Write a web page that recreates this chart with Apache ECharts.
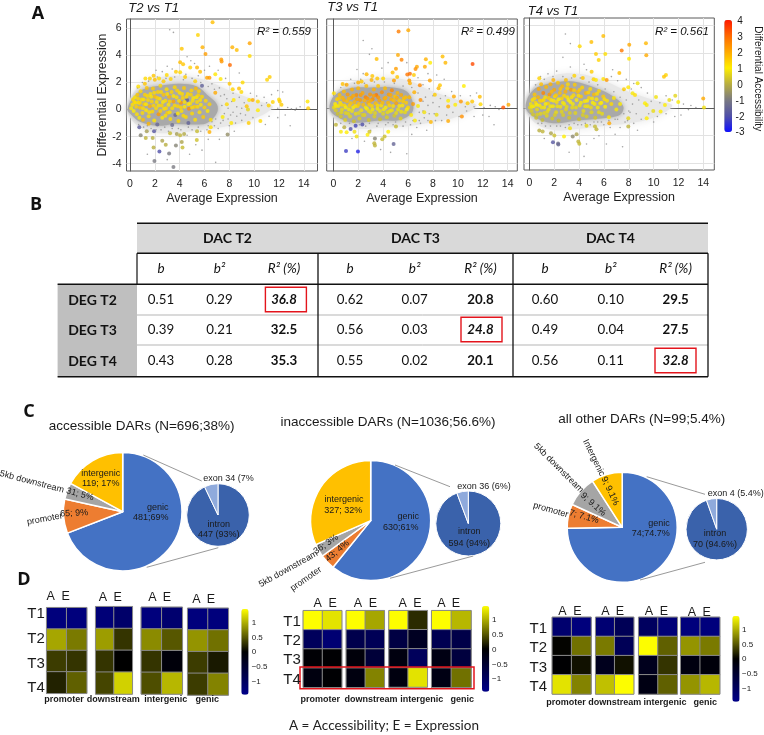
<!DOCTYPE html>
<html><head><meta charset="utf-8">
<style>html,body{margin:0;padding:0;background:#fff}#c{width:764px;height:735px}</style>
<script src="https://cdn.jsdelivr.net/npm/echarts@6/dist/echarts.min.js"></script>
</head><body><div id="c"></div>
<script>
// ---------- Panel A data: [average expression, differential expression, differential accessibility]
const darT2 = [[6.65,6.45,1.7],[5.47,5.5,1.4],[4.17,4.5,1.6],[5.84,4.6,1.9],[6.08,4.1,2.2],[8.24,4.6,1.9],[8.6,4.4,1.7],[9.64,4.9,2.1],[9.64,3.95,1.3],[7.35,3.7,2.2],[7.38,3.55,2.3],[8.05,3.3,3],[4.04,3.5,1.7],[4.28,3.35,1.6],[4.85,3.1,1.4],[5.4,3.1,1.8],[5.65,2.8,1.7],[6.87,2.6,1.1],[6.2,2.35,2.1],[6.4,2.35,2.3],[7.3,2.25,1.1],[11.04,2.2,1.4],[11.25,2.4,1.5],[8.02,1.9,1.6],[8.27,1.5,1.4],[8.78,1.55,1.7],[8.97,1.3,1.3],[9.07,2,1.3],[6.87,1.25,2],[8.35,.7,1.1],[7.8,.4,1.3],[9.6,.7,1.1],[9.88,.7,2],[10.3,.6,1.3],[9.4,.25,1.6],[9.5,0,.6],[10.3,-.05,1],[11.17,.3,1.4],[11.5,.55,1.4],[12,.75,1.3],[12.06,.6,1.5],[12.2,.35,1.5],[14.3,.6,1.1],[14.35,.1,1.5],[10.5,-.85,1.3],[9.56,-1,1.5],[8.16,-1,1.1],[7.46,-.55,.9],[6.5,-1.3,1.2],[6.4,-1.65,1.9],
[1.24,2.3,1.3],[1.6,2.3,1.4],[1.9,2.5,1.6],[2,2.2,1.7],[2.34,2.3,1.3],[2.7,2.1,1.5],[2.96,2.55,1.3],[3.7,2.8,1.5],[3.28,2.25,1.4],[.67,1.7,1.2],[1.2,1.9,1.6],[4.04,2.75,1.3],[4.44,2.4,1.5],[5.25,2.1,1.4],[5.8,1.75,-1.6],
[.86,-1.9,-.8],[1.35,-1.6,-.3],[.75,-1.3,-1.7],[1.94,-1.6,-1.8],[1.83,-2.1,0],[1.27,-2.1,.1],[1.9,-2.8,0],[2.37,-3.1,-2],[1.97,-3.8,-1],[3.15,-3.25,-1],[3.5,-4.25,-1],[2.6,-2.3,-.2],[2.88,-2.6,0],[3.23,-1.75,.2],[3.77,-1.8,-.3],[4.04,-1.9,.1],[3.7,-2.65,-.8],[4.17,-2.4,-.2],[4.23,-2.8,.2],[4.36,-1.8,-.1],[5.38,-2.25,.3],[5.4,-1.6,.2],[7.86,-1.85,-.6],
[.1,.1,.9],[.2,.35,1.2],[.3,-.1,1],[.35,.55,1.3],[.4,.9,1.1],[.5,.2,1.4],[.55,-.35,1.2],[.6,1.1,1.5],[.7,.5,1.1],[.75,-.6,.9],[.8,.15,1.6],[.85,1.35,1.3],[.95,.75,1.2],[1,-.25,1.3],[1.05,-.75,1.7],[1.15,.4,1.5],[1.2,1.1,1.4],[1.3,-.05,1.1],[1.35,1.6,1.6],[1.45,.7,1.3],[1.5,-.5,1.2],[1.6,.25,1.9],[1.65,1.15,1.2],[1.75,.6,1.4],[1.8,-.15,1.3],[1.85,1.55,1.5],[1.95,-.8,1.1],[2,.95,1.7],[2.1,.1,1.3],[2.15,.55,1.2],[2.25,1.3,1.4],[2.3,-.35,2.3],[2.4,.8,1.2],[2.45,1.75,1.3],[2.55,.3,1.4],[2.6,-.6,1.1],[2.7,1.1,1.6],[2.75,.05,1.2],[2.85,.65,1.3],[2.95,1.5,1.2],[3,-.25,1.5],[3.1,.35,1.1],[3.15,.95,1.8],[3.25,-.7,1.2],[3.35,1.3,1.4],[3.4,.1,1.3],[3.5,.6,2.1],[3.6,1.65,1.3],[3.65,-.4,-1.5],[3.75,.9,1.2],[3.85,.25,1.4],[3.9,-.85,1.3],[4,1.25,1.2],[4.1,.5,2.3],[4.15,-.1,1.2],[4.25,.85,1.4],[4.35,1.6,1.5],[4.4,.2,1.1],[4.5,-.55,1.3],[4.6,.7,-1.7],[4.65,1.15,1.3],[4.75,.05,2.4],[4.85,.45,1.2],[4.95,1.4,1.4],[5,-.3,1.3],[5.1,.85,1.1],[5.2,.2,1.5],[5.25,-.75,1.2],[5.3,1.55,1.7],[5.4,.55,1.3],[5.5,1.05,1.4],[5.6,-.2,1.2],[5.7,.35,1.1],[5.8,.95,1.3],[5.9,-.55,1.5],[6,.15,1.4],[6.1,.65,1.3],[6.25,-.1,1.1],[6.4,.4,1.4],[6.5,-.75,1.2],[2.2,-1.1,-1.4],[3.4,-1.15,-1.3],[1.5,-1.05,1.8],[4.7,-1,-1.6],
[.25,.75,1.3],[.45,.5,1.2],[.65,.8,1.3],[.8,.5,1.4],[1.1,.75,1.2],[1.05,.1,1.3],[1.3,.4,1.1],[1.4,1,1.3],[1.55,-.2,1.2],[1.7,.95,1.1],[1.9,.3,1.4],[1.95,1.25,1.3],[2.2,.85,1.4],[2.3,.3,1.2],[2.5,1.3,1.3],[2.65,.55,1.1],[2.45,-.1,1.4],[2.9,.1,1.3],[3,1.15,1.2],[3.2,.6,1.4],[3.2,-.2,1.2],[3.5,1,1.1],[3.6,.3,1.3],[3.8,1.4,1.4],[3.95,.65,1.2],[4.2,1.15,1.3],[4.1,.15,1.4],[4.4,.55,1.2],[4.55,.95,1.3],[4.7,.4,1.1],[4.9,1.1,1.4],[5,.15,1.3],[5.05,.65,1.2],[5.35,.9,1.1],[5.45,.2,1.3],[5.65,.7,1.2],[5.55,1.35,1.4],[3.85,-.3,1.1],[4.3,-.45,1.3],[2.85,-.45,1.2]];
const darT3 = [[5.24,5.55,2.7],[6.02,5.65,2],[5.19,3.86,2],[5.48,3.5,2.6],[3.48,3.57,1.7],[7.43,3.55,1.9],[7.78,3.3,1],[8.77,3.74,1.7],[9,3.3,1.8],[11.18,3.2,3.4],[6.71,3,2],[6.6,2.83,2.4],[7.35,3,2],[5.03,2.85,2.2],[6.15,2.5,3],[5.94,2.44,2.8],[6.47,2.4,1.5],[2.67,2.46,1.8],[3.13,2.34,1.6],[3.07,2.05,1.9],[3.53,2.15,1.6],[4,2.15,1.4],[4.76,2.58,1.7],[5.13,2.25,1.6],[4.87,2,2.2],[6.1,2,2.2],[6.15,1.8,1.9],[7.75,2,2.1],[6.95,1.67,2.5],[6.5,1.16,1.9],[8.56,1.67,1.6],[8.45,1.45,1.8],[10.48,1.6,1],[8.15,.97,1.5],[9.68,.85,2],[9.22,.53,1],[9.22,.12,2],[9.79,.24,1],[10.24,.48,2.3],[10.78,.36,1.5],[11.15,.48,1.6],[11.76,.82,1.7],[11.82,.29,1.3],[13.64,.05,3.3],[14.06,.24,2],[10.32,-.6,2.4],[9.22,-.92,2],[7.83,-1,1.8],[8.29,-.48,.7],
[.21,-1.2,.1],[.61,-1.7,.9],[1.07,-1.74,1],[.88,-1.38,0],[1.39,-1.5,-2],[1.79,-1.28,-2.2],[1.7,-1.7,.8],[1.87,-2.05,.8],[2.33,-1.18,-2],[2.75,-1.93,1],[2.9,-1.7,.3],[3.34,-2.2,-.8],[3.29,-2.54,.1],[3.34,-2.7,.1],[3.93,-2.25,.2],[4.12,-2.05,.3],[4.41,-1.7,1],[4.84,-2.6,-1.5],[1.02,-3.1,-2.3],[1.98,-3.14,-2.7],[5.03,-1.33,.2],
[.75,1.76,1.7],[1.07,1.7,2],[2,1.86,1.9],[2.27,1.93,1.6],[.05,1.09,1.2],
[.05,.05,.7],[.15,.3,1],[.2,-.15,.5],[.3,.65,1.4],[.35,-.4,.3],[.4,.15,.9],[.5,.95,1.7],[.55,.4,1.2],[.6,-.6,.4],[.7,-.1,.7],[.75,.75,1.8],[.85,1.2,1.7],[.9,.2,1.3],[.95,-.85,.5],[1,-.35,.6],[1.1,.5,1.7],[1.15,1,2.2],[1.25,-.1,.9],[1.3,.2,1.5],[1.35,-.6,.6],[1.45,.75,2.1],[1.5,1.35,1.9],[1.6,.05,1],[1.65,-.95,.3],[1.7,.45,1.8],[1.8,-.4,.7],[1.85,.95,2.4],[1.95,.15,1.4],[2,1.45,1.8],[2.1,-.75,.5],[2.15,.6,2.2],[2.25,-.15,.8],[2.35,1.1,2],[2.4,.25,1.7],[2.5,-.5,.6],[2.6,.8,2.6],[2.65,1.6,1.7],[2.7,-.05,1],[2.8,.4,2],[2.85,-.85,.4],[2.95,1,2.3],[3,-.3,.7],[3.1,.15,1.4],[3.15,.65,2.4],[3.25,1.35,1.9],[3.3,-.6,.5],[3.4,.35,1.7],[3.45,.95,2.8],[3.55,-.05,.9],[3.6,1.6,1.6],[3.7,.55,2.1],[3.75,-.8,.3],[3.85,.2,1.2],[3.9,1.15,2.4],[4,-.4,.6],[4.1,.7,2],[4.15,1.45,1.7],[4.2,.05,1],[4.3,-.65,.5],[4.4,.4,1.8],[4.45,1,2.2],[4.55,-.2,.8],[4.65,.65,1.9],[4.7,1.3,2.5],[4.8,.15,1.2],[4.9,-.55,.4],[4.95,.85,1.6],[5.05,.35,2.1],[5.15,1.1,1.8],[5.2,-.1,.8],[5.3,.55,1.5],[5.4,-.75,.6],[5.45,.95,2],[5.55,.2,1.1],[5.65,.7,1.7],[5.75,-.3,.7],[5.85,.4,1.5],[6,.05,1.3],[6.1,.8,1.8],[6.25,-.5,1.1],[6.4,.3,2.2],[6.55,-.9,.9],[6.8,.15,.9],[7,.6,2.4],[7.3,-.3,.8],
[.2,.15,1.1],[.45,.7,1.6],[.65,.25,1.3],[.65,-.3,.6],[.85,.6,1.9],[1,.05,1],[1.25,.7,1.8],[1.4,.35,1.6],[1.2,-.4,.6],[1.5,-.2,.8],[1.6,.9,2],[1.75,.15,1.2],[1.9,.65,2.1],[2.05,.3,1.6],[2.05,-.35,.6],[2.2,.95,2.2],[2.35,-.5,.5],[2.5,.55,1.9],[2.6,.05,.9],[2.75,.7,2.3],[2.85,-.2,.7],[2.9,.25,1.5],[3,.55,2],[3.15,-.1,.9],[3.25,.9,2.2],[3.35,-.35,.6],[3.55,.2,1.3],[3.6,.8,2.3],[3.75,-.2,.8],[3.95,.4,1.7],[4.05,-.1,.9],[4.2,.75,1.9],[4.35,-.3,.7],[4.5,.2,1.4],[4.6,.95,2],[4.7,-.15,.8],[4.85,.55,1.7],[5.05,-.35,.7],[5.1,.75,1.9],[5.3,.15,1.1],[5.45,-.25,.8],[5.6,.5,1.5],[5.8,.8,1.7],[5.9,-.1,1]];
const darT4 = [[5.95,5.25,1.7],[4.99,4.82,1.7],[4.05,4.5,1.3],[8.04,4.62,2],[9.38,4.72,1.8],[7.43,4.19,2.8],[6.11,3.95,1.2],[5.36,3.95,1.5],[5.58,3.51,1.4],[8.02,3.6,1.1],[9.41,3.85,2],[7.24,2.57,1.7],[10.99,2.42,1.4],[10.83,2.28,1.6],[5.01,2.66,1.5],[5.95,2.13,1.2],[6.22,2.06,2.3],[5.17,2.1,1.4],[5.36,2.06,1.1],[4.3,2.2,1.6],[3.62,2.37,1.4],[2.94,2.06,1.7],[1.93,2.06,1.9],[.8,2.18,1.4],[8.71,1.82,.8],[7.96,1.53,1.1],[7.61,1.38,1.5],[8.31,1.09,.9],[8.5,.97,1.2],[10.19,.82,.8],[11.74,.9,.6],[11.26,.6,.7],[11.98,.46,.9],[9.3,.36,1],[9.44,.24,.9],[10.91,.24,1],[9.97,-.2,.7],[10.56,-.24,1],[9.44,-.73,1],[13.99,.7,2],[14.05,.05,.8],[7.96,-.73,.6],[6.43,-1.09,2],[7.96,-1.33,.1],
[.8,-1.62,0],[1.07,-1.7,.1],[1.74,-1.82,-.2],[2.01,-1.99,.3],[2.79,-2.06,1],[3.49,-2.06,-.7],[3.8,-1.89,-.2],[3.94,-2.42,.1],[4.02,-2.59,.2],[1.9,-2.47,-1.8],[2.31,-2.57,-1.2],[2.33,-2.64,-1.4],[5.28,-1.33,.2],[3.27,-1.45,.8],[4.6,-1.28,.6],[5.4,-1.52,.1],
[.05,.05,.6],[.12,.3,.8],[.18,-.2,.5],[.25,.6,1.2],[.3,-.45,.4],[.35,.15,.9],[.42,1,1.6],[.5,.4,1.3],[.55,-.7,.3],[.62,-.1,.7],[.7,.8,1.8],[.75,1.4,2],[.82,.2,1.1],[.9,-.4,.6],[.95,1.75,1.7],[1,.55,1.5],[1.05,-.85,.2],[1.12,1.1,2.6],[1.2,.05,.9],[1.28,.8,1.2],[1.35,1.55,1.8],[1.4,-.55,.6],[1.5,.35,1.4],[1.55,-.1,.8],[1.62,1,2.3],[1.7,1.75,1.9],[1.75,.6,1.1],[1.85,-.75,.4],[1.9,.15,.9],[2,1.35,2],[2.05,.85,1.3],[2.15,-.3,.7],[2.2,.45,1.2],[2.3,1.85,1.6],[2.35,-.9,.2],[2.45,1.1,1.7],[2.5,.1,.8],[2.6,.7,1.4],[2.65,1.6,1.8],[2.72,-.5,.5],[2.8,.3,.9],[2.9,1.2,1.9],[2.95,-.1,.6],[3.05,.8,1.2],[3.1,1.75,1.3],[3.2,-.7,.4],[3.3,.45,1],[3.35,1.35,2.2],[3.45,.05,.7],[3.55,.95,1.3],[3.65,1.7,1.5],[3.7,-.35,.6],[3.8,.6,1],[3.9,1.2,1.7],[4,-.8,.3],[4.05,.2,.8],[4.15,.85,1.5],[4.25,1.5,1.4],[4.35,-.2,.7],[4.45,.5,1.1],[4.55,1.1,1.8],[4.6,-.6,.5],[4.7,.15,.8],[4.8,.75,1.4],[4.9,1.4,1.2],[5,-.3,.6],[5.1,.4,1],[5.2,1,1.7],[5.3,-.7,.4],[5.4,.65,1.1],[5.5,.05,.9],[5.6,1.25,1.3],[5.7,.35,1.2],[5.85,-.4,.7],[5.95,.85,1.5],[6.1,.1,1],[6.25,.55,1.2],[6.4,-.65,1.1],[6.6,.3,1.3],[6.8,.75,1.1],[7,-.1,.9],[7.3,.3,1],
[.2,.1,.9],[.4,.7,1.3],[.6,.25,1],[.65,-.45,.5],[.85,.55,1.4],[1,.05,.8],[1.15,.6,1.3],[1.3,.3,1],[1.2,-.35,.6],[1.45,-.25,.7],[1.55,.75,1.5],[1.7,.15,.9],[1.8,1.2,1.8],[1.95,.55,1.1],[2.05,-.5,.5],[2.15,.95,1.5],[2.25,.15,.8],[2.35,.65,1],[2.5,1.4,1.6],[2.6,-.25,.6],[2.7,.4,.9],[2.8,.9,1.3],[3,.1,.7],[3.05,1.45,1.4],[3.15,.6,1],[3.25,-.35,.5],[3.4,.8,1.2],[3.5,.3,.9],[3.6,1.3,1.5],[3.75,.05,.7],[3.95,.9,1.2],[4.05,1.35,1.5],[4.15,.4,.9],[4.3,-.5,.5],[4.5,.15,.8],[4.65,.55,1],[4.75,1.15,1.4],[4.95,.05,.7],[5.05,.7,1.1],[5.25,.3,.9],[5.45,1.05,1.3],[5.6,-.3,.7],[5.8,.4,1],[6.05,.65,1.2]];
// sparse grey genes around the dense cloud: [average expression, differential expression]
const geneT2 = [[3.2,5.9],[3.5,5.7],[4.6,3.9],[4.9,3.6],[3,3.2],[3.4,3],[5.2,3.4],[6.4,3.2],[2.1,2.9],[2.6,2.8],[4.5,2.6],[6,2.9],[7.1,2.9],[5.5,2.5],[7.7,2.3],[8.8,2.7],[6.6,1.9],[7.2,1.6],[7.6,1.1],[8.3,1.2],[8.8,.9],[9.2,.5],[9.7,1.2],[10.2,1],[10.8,.9],[11.4,1.1],[11.9,1.4],[12.3,1.3],[10.6,.3],[11,.5],[11.9,.1],[12.7,.15],[13,.05],[13.4,.1],[13.7,.2],[13.3,-.05],[12.5,-.4],[12.9,-1.2],[11.9,-.6],[11.2,-.5],[10.9,-1.1],[9.9,-.6],[9.3,-.4],[9,-.8],[8.6,-.5],[8.3,-.2],[7.9,-.7],[7.6,-.3],[7.3,-1],[7.1,-1.4],[6.8,-1.2],[6.2,-1.5],[5.7,-1.6],[5,-1.5],[4.6,-1.9],[3.9,-1.4],[3.1,-1.6],[2.5,-1.5],[1.7,-1.4],[1.1,-1.3],[5.3,-2.6],[5.8,-3],[6.3,-2.2],[6.9,-3.9],[7.2,-2.2],[8.4,-1.6],[1.4,-3.3],[3,-3.7],[4.8,-3.3],
[.6,1.6],[1,2],[1.5,2.1],[2.2,2.4],[2.9,2.3],[3.6,2.4],[4.3,2.2],[5,2.3],[5.7,2],[6.3,1.7],[6.8,1.5],[7.3,1],[7.8,.8],[8.2,.6],[8.6,.2],[9,.1],[7.4,.3],[7.9,.1],[8.1,-.4],[8.9,-.3],[8.5,-1],[8,-1.2],[7.5,-.8],[6.9,-.7],[6.6,-.9],[6.3,-1.2],[5.5,-1.3],[4.7,-1.3],[4.1,-1.5],[3.4,-1.4],[2.8,-1.3],[2.1,-1.5],[1.4,-1.2],[.7,-1.1]];
const geneT3 = [[2.4,4.9],[3.1,4.3],[2.9,3.9],[4.4,3.3],[3.9,2.9],[5.9,3.3],[1.9,2.8],[2.4,2.5],[6.8,2.2],[7.6,2.5],[8.3,2.4],[8.9,2.1],[7.2,1.7],[7.7,1.4],[8,.9],[7.4,.8],[8.6,.7],[9,.9],[9.5,1.2],[10.2,.9],[11,.9],[11.5,1.1],[10.6,.1],[11.3,.1],[12.1,.05],[12.6,.2],[13,.1],[13.3,-.1],[12.5,-.6],[12.9,-1.2],[12,-.5],[11.3,-.6],[10.7,-.2],[10.1,-.6],[9.6,-.3],[9.1,-.5],[8.7,-.9],[8.2,-.9],[7.7,-.4],[7.3,-.7],[6.9,-.9],[6.7,-1.4],[6.2,-1.2],[5.6,-1.3],[4.8,-1.2],[4.2,-1.2],[3.5,-1.3],[2.6,-1.3],[.6,-1.1],[1.5,-2.2],[2.5,-2.4],[3.8,-3],[5.9,-3.3],[6.3,-1.9],[7.5,-1.6],[4.6,-3.2],[3,-1.6],[2.2,2.1],[1.4,2.1],[.6,1.5],
[1,1.7],[1.7,1.8],[2.5,1.8],[3.3,1.9],[4.1,1.9],[4.9,1.8],[5.6,1.6],[6.3,1.5],[6.8,1.1],[7.2,.5],[7.6,.2],[8,.4],[8.5,.1],[6.9,-.3],[7.2,-.2],[8.1,-.4],[7.6,-.9],[7,-1.1],[6.4,-.9],[5.8,-1],[5,-1],[4.4,-1.05],[3.6,-1.1],[2.9,-1.1],[2.1,-1.2],[1.3,-1.1]];
const geneT4 = [[2.9,5.4],[3.3,4.7],[2.7,3.7],[3.3,3],[4.4,3.2],[4.6,2.8],[6.7,2.8],[2.2,2.7],[1.5,2.5],[.9,2.3],[6.6,2.3],[7.1,2],[7.8,2.1],[8.4,1.8],[9,1.5],[9.5,1.1],[7.6,1.3],[8.2,1.4],[8.8,.6],[9.8,.5],[10.5,.4],[11,.9],[11.5,.6],[12.4,.3],[13,.2],[13.4,.05],[12.8,-.1],[12.2,-.5],[11.7,-.6],[11,-.4],[10.3,-.6],[10,-1],[9.6,-.4],[9,-.8],[8.6,-.4],[8.4,-1.1],[8,-.2],[7.7,-1],[7.3,-1.4],[6.9,-.8],[6.5,-1.4],[6,-1.2],[5.5,-1],[4.9,-1.2],[4.2,-1.2],[3.6,-1.1],[2.9,-1.4],[2.2,-1.3],[1.3,-1.3],[.7,-1.1],[1.2,-2.2],[5.2,-2.2],[4.6,-2.6],[6.2,-2.6],[7.5,-2.8],[3.2,-3.2],[4.4,-3.5],[5.6,-2],[6.9,-1.9],[8.7,-1.6],
[.5,1.7],[1.2,2.1],[1.9,2.3],[2.7,2.3],[3.4,2.2],[4.1,2.2],[4.8,1.9],[5.5,1.7],[6.1,1.4],[6.8,1.2],[7.3,.8],[7.8,.6],[8.3,.3],[8.1,-.3],[7.6,-.4],[7.9,-.9],[7.1,-.8],[6.4,-.9],[5.8,-1],[5.2,-1],[4.5,-1.1],[3.9,-1.2],[3.2,-1.2],[2.5,-1.3],[1.7,-1.3],[1,-1.1]];
// envelopes of the dense grey cloud and of its lighter halo
const coreT2 = [[-.2,0],[.27,.9],[1.08,1.5],[2.4,1.75],[4,1.9],[5.4,1.7],[6.2,1.1],[7,.4],[7,-.25],[6.2,-1],[5.1,-1.1],[3.5,-1.08],[2.2,-1.2],[.8,-.9],[.13,-.4]];
const coreT3 = [[-.3,0],[.13,.95],[1.34,1.45],[2.94,1.5],[4.8,1.5],[5.9,1.2],[6.4,.35],[6.3,-.35],[5.35,-.85],[3.75,-.9],[1.6,-1.05],[.27,-.6]];
const coreT4 = [[-.3,.1],[.32,1.33],[1.93,1.85],[3.54,1.94],[5.4,1.45],[6.75,.85],[7.56,.12],[7.3,-.48],[5.95,-.73],[3.8,-.9],[1.93,-1.09],[.32,-.6]];
const haloT2 = [[-.2,0],[.5,1.5],[2,2.3],[4,2.5],[6,2.2],[8,1.4],[10,.7],[11.5,.2],[10,-.7],[8,-1.2],[6,-1.5],[4,-1.7],[2,-1.7],[.5,-1.1]];
const haloT3 = [[-.3,0],[.5,1.4],[2,2],[4,2.2],[6,2],[8,1.2],[10,.6],[11.5,.2],[10,-.6],[8,-1],[6,-1.3],[4,-1.4],[2,-1.5],[.5,-1.1]];
const haloT4 = [[-.3,.1],[.5,1.7],[2,2.4],[4,2.5],[6,2],[8,1.2],[10,.6],[11.5,.2],[10,-.7],[8,-1.1],[6,-1.3],[4,-1.5],[2,-1.6],[.5,-1.1]];
const expressionTicks = [0,2,4,6,8,10,12,14];
const diffExprTicks = [-4,-2,0,2,4,6];
const accessTicks = ['4','3','2','1','0','-1','-2','-3'];
const panelNames = ['T2 vs T1','T3 vs T1','T4 vs T1'];
const r2Labels = ['R² = 0.559','R² = 0.499','R² = 0.561'];
// ---------- Panel B data
const dacGroups = ['DAC T2','DAC T3','DAC T4'];
const coefHeads = ['b','b²','R² (%)'];
const degRows = ['DEG T2','DEG T3','DEG T4'];
const dacT2Rows = [['0.51','0.29','36.8'],['0.39','0.21','32.5'],['0.43','0.28','35.3']];
const dacT3Rows = [['0.62','0.07','20.8'],['0.56','0.03','24.8'],['0.55','0.02','20.1']];
const dacT4Rows = [['0.60','0.10','29.5'],['0.49','0.04','27.5'],['0.56','0.11','32.8']];
// ---------- Panel C data
const regionNames = ['genic','promoter','5kb downstream','intergenic'];
const subNames = ['intron','exon'];
const accessibleCounts = [481,65,31,119];
const inaccessibleCounts = [630,43,36,327];
const otherCounts = [74,7,9,9];
const accessibleGenic = [447,34];
const inaccessibleGenic = [594,36];
const otherGenic = [70,4];
// ---------- Panel D data (row-wise T1..T4, each row A then E)
const rowNames = ['T1','T2','T3','T4'];
const colNames = ['A','E'];
const groupNames = ['promoter','downstream','intergenic','genic'];
const accPromoter = [-1.3,-1.3,.95,.7,.35,.3,.2,.55];
const accDownstream = [-1.25,-1.1,.9,.3,.3,0,.4,1.2];
const accIntergenic = [-1.3,-1.15,.8,.5,.3,-.1,.45,1.05];
const accGenic = [-1.3,-1.3,.85,.65,.35,.15,.35,.75];
const inaPromoter = [1.45,1.3,-.95,-1.2,-.05,-.03,-.15,-.03];
const inaDownstream = [1.45,.95,-.8,-.9,-.1,-.6,-.15,.75];
const inaIntergenic = [1.45,.25,-.7,-.35,-.15,-.95,-.15,1.3];
const inaGenic = [1.45,1.05,-.85,-.75,-.2,-.65,-.2,.65];
const othPromoter = [-1.15,-1.3,.03,.65,-.02,.1,1.3,.75];
const othDownstream = [-1.2,-.9,.7,-.9,-.3,.1,1.1,1.45];
const othIntergenic = [-1,-1.25,1.45,.55,-.3,.3,-.2,.55];
const othGenic = [-1.3,-1.3,.85,.7,-.15,-.1,.85,1.05];
const heatTicks = ['1','0.5','0','−0.5','−1'];

// ---------- layout and helpers
const SANS = '"Liberation Sans",Arial,sans-serif', CAL = 'Lato,sans-serif';
const g = [];
function txt(text,x,y,font,o){o=o||{};g.push({type:'text',x,y,rotation:(o.rot||0)*Math.PI/180,z:100,silent:true,
  style:{text,font,fill:o.fill||'#1a1a1a',align:o.align||'center',verticalAlign:'middle'}});}
function line(x1,y1,x2,y2,c,w){g.push({type:'line',z:90,silent:true,shape:{x1,y1,x2,y2},style:{stroke:c,lineWidth:w}});}
function box(x,y,w,h,fill,stroke,lw,z){g.push({type:'rect',z:z||80,silent:true,shape:{x,y,width:w,height:h},style:{fill:fill||'transparent',stroke:stroke||null,lineWidth:lw||0}});}

const grids=[],xAxes=[],yAxes=[],series=[],visualMaps=[];
const scatterLayout=[
 {l:126.5,t:19,r:317.5,b:171,xMin:-.28,xMax:15.1,yMin:-4.54,yMax:6.69,labels:true,titleX:128.3,titleY:8.5,r2X:311},
 {l:326.7,t:19,r:517.3,b:171,xMin:-.53,xMax:14.77,yMin:-4.55,yMax:6.46,labels:false,titleX:327.3,titleY:7.5,r2X:515},
 {l:524,t:18,r:714.3,b:170,xMin:-.43,xMax:14.88,yMin:-4.49,yMax:6.56,labels:false,titleX:527.7,titleY:11,r2X:709}];
const darSets=[darT2,darT3,darT4],geneSets=[geneT2,geneT3,geneT4],coreSets=[coreT2,coreT3,coreT4],haloSets=[haloT2,haloT3,haloT4];
function cloud(i,pts,color,blur){return {type:'custom',xAxisIndex:i,yAxisIndex:i,data:pts,silent:true,encode:{x:0,y:1},z:1,
  renderItem:(p,api)=>{if(p.dataIndex!==0)return null;return {type:'polygon',shape:{points:pts.map(d=>api.coord(d)),smooth:.35},style:{fill:color,shadowBlur:blur,shadowColor:color}};}};}
const darSeriesIdx=[];
scatterLayout.forEach((s,i)=>{
  grids.push({left:s.l,top:s.t,width:s.r-s.l,height:s.b-s.t,show:true,borderColor:'#5a5a5a',borderWidth:1,backgroundColor:'#fff'});
  const ax={lineStyle:{color:'#5a5a5a',width:1}};
  xAxes.push({type:'value',gridIndex:i,min:s.xMin,max:s.xMax,name:'Average Expression',nameLocation:'middle',nameGap:21,
    nameTextStyle:{fontFamily:SANS,fontSize:12.5,color:'#222'},axisLine:ax,
    axisTick:{show:false,customValues:expressionTicks},splitLine:{show:true,lineStyle:{color:'#e2e2e2',width:1}},
    axisLabel:{customValues:expressionTicks,fontFamily:SANS,fontSize:10.5,color:'#222',margin:8,hideOverlap:false,showMinLabel:true,showMaxLabel:true}});
  yAxes.push({type:'value',gridIndex:i,min:s.yMin,max:s.yMax,name:s.labels?'Differential Expression':'',nameLocation:'middle',nameGap:15,
    nameTextStyle:{fontFamily:SANS,fontSize:12.3,color:'#222'},axisLine:ax,
    axisTick:{show:false,customValues:diffExprTicks},splitLine:{show:true,lineStyle:{color:'#e2e2e2',width:1}},
    axisLabel:{show:s.labels,customValues:diffExprTicks,fontFamily:SANS,fontSize:10.5,color:'#222',margin:5}});
  series.push(cloud(i,haloSets[i],'#e8e8e8',8));
  series.push(cloud(i,coreSets[i],'#a9a9a9',5));
  series.push({type:'scatter',xAxisIndex:i,yAxisIndex:i,data:geneSets[i],symbolSize:1.6,silent:true,itemStyle:{color:'#8d8d8d'},z:2});
  darSeriesIdx.push(series.length);
  series.push({type:'scatter',xAxisIndex:i,yAxisIndex:i,data:darSets[i],symbol:'circle',symbolSize:4,silent:true,z:3,encode:{x:0,y:1}});
  txt(panelNames[i],s.titleX,s.titleY,'italic 13px '+SANS,{align:'left'});
  txt(r2Labels[i],s.r2X,32,'italic 11.5px '+SANS,{align:'right',fill:'#111'});
});
visualMaps.push({type:'continuous',show:true,seriesIndex:darSeriesIdx,dimension:2,min:-3,max:4,left:724.3,top:20,itemWidth:7.7,itemHeight:112,padding:0,text:null,calculable:false,realtime:false,hoverLink:false,
  inRange:{color:['#1010ff','#5050a8','#7a7a82','#b8ae40','#ffee00','#ffaa00','#ff6a00','#ff1a00']},outOfRange:{color:['#999']},textStyle:{fontSize:0}});
accessTicks.forEach((t,i)=>txt(t,740,21.7+i*15.86,'10px '+SANS,{align:'center'}));
txt('Differential Accessibility',758,78.7,'10px '+SANS,{rot:-90});

// ---------- panel letters
txt('A',38,14,'bold 18px "Open Sans",sans-serif',{fill:'#111'});
txt('B',36,205,'bold 18px "Open Sans",sans-serif',{fill:'#111'});
txt('C',29,412,'bold 18px "Open Sans",sans-serif',{fill:'#111'});
txt('D',24,580,'bold 18px "Open Sans",sans-serif',{fill:'#111'});

// ---------- Panel B table
const T={l:57.6,h:137,v:[318,513,708],top:223.3,h1:253.3,h2:284.3,rows:[315,345,376.7]};
const colX=[[161,219.5,284],[350,414.6,480.5],[545,610.7,675.6]];
box(T.h,T.top,T.v[2]-T.h,T.h1-T.top,'#d9d9d9');
box(T.l,T.h2,T.h-T.l,T.rows[2]-T.h2,'#bfbfbf');
line(T.h,T.top,T.v[2],T.top,'#111',1.6);
line(T.h,T.h1,T.v[2],T.h1,'#111',1.4);
line(T.l,T.h2,T.v[2],T.h2,'#111',1.4);
line(T.h,T.rows[0],T.v[2],T.rows[0],'#b5b5b5',1);
line(T.h,T.rows[1],T.v[2],T.rows[1],'#b5b5b5',1);
line(T.l,T.rows[2],T.v[2],T.rows[2],'#111',1.6);
line(T.h,T.h1,T.h,T.h2,'#111',1.2);
T.v.forEach(x=>line(x,T.h1,x,T.rows[2],'#111',1.3));
const rowY=[300,330,361];
const dacCenters=[227.5,415.5,610.5];
dacGroups.forEach((n,i)=>txt(n,dacCenters[i],238.5,'bold 14px '+CAL,{fill:'#111'}));
[dacT2Rows,dacT3Rows,dacT4Rows].forEach((rows,c)=>{
  coefHeads.forEach((h,k)=>txt(h,colX[c][k],269,'italic 13.5px '+CAL,{fill:'#111'}));
  rows.forEach((vals,r)=>{
    vals.forEach((v,k)=>{
      const isR=k===2,hi=isR&&r===c;
      txt(v,colX[c][k],rowY[r],(hi?'italic bold ':isR?'bold ':'')+'13.3px '+CAL,{fill:'#111'});
    });
  });
  const rx=[265.4,461,655][c],ry=[287.3,317.3,348.3][c];
  box(rx,ry,41,24.5,null,'#e3141c',1.4,95);
});
degRows.forEach((n,r)=>txt(n,92.5,rowY[r],'bold 14px '+CAL,{fill:'#111'}));

// ---------- Panel C pies
const pieColors=['#4472c4','#ed7d31','#a5a5a5','#ffc000'],subColors=['#3a62ab','#8faadc'];
function pie(center,radius,vals,names,colors,bw){
  series.push({type:'pie',center,radius,startAngle:90,clockwise:true,silent:true,animation:false,label:{show:false},labelLine:{show:false},
    itemStyle:{borderColor:'#fff',borderWidth:bw},data:vals.map((v,i)=>({value:v,name:names[i],itemStyle:{color:colors[i]}}))});
}
pie([122.7,511.7],59.3,accessibleCounts,regionNames,pieColors,1.5);
pie([218,515],31.3,accessibleGenic,subNames,subColors,1);
pie([370.7,520.6],60,inaccessibleCounts,regionNames,pieColors,1.5);
pie([468.3,523.5],32.5,inaccessibleGenic,subNames,subColors,1);
pie([622.2,527.3],55,otherCounts,regionNames,pieColors,1.5);
pie([716.7,529.2],30.7,otherGenic,subNames,subColors,1);
[[143.3,455,201.7,481],[146.7,567.3,218.3,547.7],[395,465,450,486.7],[390,578.3,473.3,556],[646.7,476.7,705,494.3],[640,580,705,562.3]]
  .forEach(a=>line(a[0],a[1],a[2],a[3],'#7f7f7f',.8));
const PF='9px '+SANS;
txt('accessible DARs (N=696;38%)',141.7,426,'13.5px '+SANS);
txt('inaccessible DARs (N=1036;56.6%)',388,422.3,'13.5px '+SANS);
txt('all other DARs (N=99;5.4%)',641.7,419,'13.5px '+SANS);
[['intergenic',100.7,473.3,0],['119; 17%',100.7,483.7,0],['genic',157.7,507.3,0],['481;69%',150.7,518,0],['5kb downstream',31.9,481.8,-14.7],['31; 5%',80,494.3,-15],['promoter',44.7,519,10.5],['65; 9%',74,513.3,3],
 ['exon 34 (7%',228.5,479,0],['intron',218.7,524.3,0],['447 (93%)',218.7,535,0],
 ['intergenic',344,500,0],['327; 32%',343.3,511,0],['genic',408.3,516.3,0],['630;61%',400.7,527.3,0],['36; 3%',326,544.3,35],['43; 4%',337.3,551,40],['5kb downstream',288.3,569,29],['promoter',306,579,35],
 ['exon 36 (6%)',484,486.7,0],['intron',469.3,531.7,0],['594 (94%)',469.3,543.3,0],
 ['genic',659,524,0],['74;74.7%',650.7,534,0],['promoter',550.7,510,-16],['7; 7.1%',584,516.7,-16],['5kb downstream',558.7,468,-45],['9; 9.1%',593.3,504.3,-42],['Intergenic',593.7,457.7,-64],['9; 9.1%',610,491,-65],
 ['exon 4 (5.4%)',735.7,494,0],['intron',715,534,0],['70 (94.6%)',715,544.3,0]]
 .forEach(a=>txt(a[0],a[1],a[2],PF,{rot:a[3]}));

// ---------- Panel D heatmaps
const heatColors=['#00008a','#000000','#ffff00'];
function heat(values,b){
  const i=grids.length;
  grids.push({left:b[0],top:b[1],width:b[2]-b[0],height:b[3]-b[1],show:true,borderColor:'#8a8a8a',borderWidth:1});
  xAxes.push({type:'category',gridIndex:i,data:colNames,show:false});
  yAxes.push({type:'category',gridIndex:i,data:rowNames,inverse:true,show:false});
  const data=[];
  rowNames.forEach((_,r)=>colNames.forEach((_,c)=>data.push([c,r,values[r*2+c]])));
  series.push({type:'heatmap',xAxisIndex:i,yAxisIndex:i,data,silent:true,itemStyle:{borderColor:'#8a8a8a',borderWidth:1}});
  return series.length-1;
}
function heatPanel(valueSets,boxes,aeX,aeY,tX,tY,nameX,nameY,bar){
  const idx=valueSets.map((v,i)=>heat(v,boxes[i]));
  visualMaps.push({type:'continuous',show:true,seriesIndex:idx,min:-1.45,max:1.46,left:bar.x,top:bar.y,itemWidth:7.3,itemHeight:85.7,padding:0,text:null,calculable:false,realtime:false,hoverLink:false,
    inRange:{color:heatColors},textStyle:{fontSize:0}});
  aeX.forEach((p,i)=>{txt('A',p[0],aeY[i],'12.5px '+SANS);txt('E',p[1],aeY[i],'12.5px '+SANS);});
  rowNames.forEach((n,i)=>txt(n,tX,tY[i],'15px '+SANS));
  groupNames.forEach((n,i)=>txt(n,nameX[i],nameY,'bold 9px '+SANS));
  heatTicks.forEach((t,i)=>txt(t,bar.lx,bar.ty[i],'8px '+SANS,{align:'left'}));
}
heatPanel([accPromoter,accDownstream,accIntergenic,accGenic],
 [[46.7,607.7,86.7,693.3],[95.7,606.7,132.3,694],[141.3,607.3,182.3,694],[187.7,608.3,228.3,695]],
 [[50.7,65.7],[103,117.7],[152.3,167],[196.3,211]],[596.7,598,597.7,600],36,[614.3,639.3,664.3,688.3],[64,113.3,165.7,207.3],700,
 {x:241.3,y:609,lx:251.7,ty:[622.7,637.7,652,666.7,681.7]});
heatPanel([inaPromoter,inaDownstream,inaIntergenic,inaGenic],
 [[303.3,610.7,341.7,687.3],[346.3,610.7,384.3,687.3],[389,610.7,427.3,687],[431.7,610.7,471,687.3]],
 [[317.7,332.7],[358,373],[402.7,417.3],[441.3,456]],[604,604,604,603.3],292,[621.7,641,660,680],[320.3,371,421.7,462.3],699.3,
 {x:482,y:606,lx:492,ty:[620,634.7,649.3,664.3,679]});
heatPanel([othPromoter,othDownstream,othIntergenic,othGenic],
 [[552.3,617.3,591,694],[595.7,617.3,633.7,694],[638.7,617.3,677.3,694],[680.7,617.3,719.7,694]],
 [[562.3,577.3],[605.3,620],[649,664],[692,706.7]],[611.7,611.7,611.7,612.7],538.3,[629,648.3,668.3,687.3],[566,614.7,665,705.3],702.3,
 {x:732.3,y:616,lx:742,ty:[629.3,644.7,659,674,688.7]});
box(300,667,174,21.7,null,'#e3141c',1.5,95);
txt('A = Accessibility; E = Expression',384,726,'13.5px '+CAL,{fill:'#222'});

const chart=echarts.init(document.getElementById('c'),null,{renderer:'canvas'});
chart.setOption({animation:false,backgroundColor:'#fff',tooltip:{show:false},grid:grids,xAxis:xAxes,yAxis:yAxes,visualMap:visualMaps,series,graphic:{elements:g}});
</script></body></html>
